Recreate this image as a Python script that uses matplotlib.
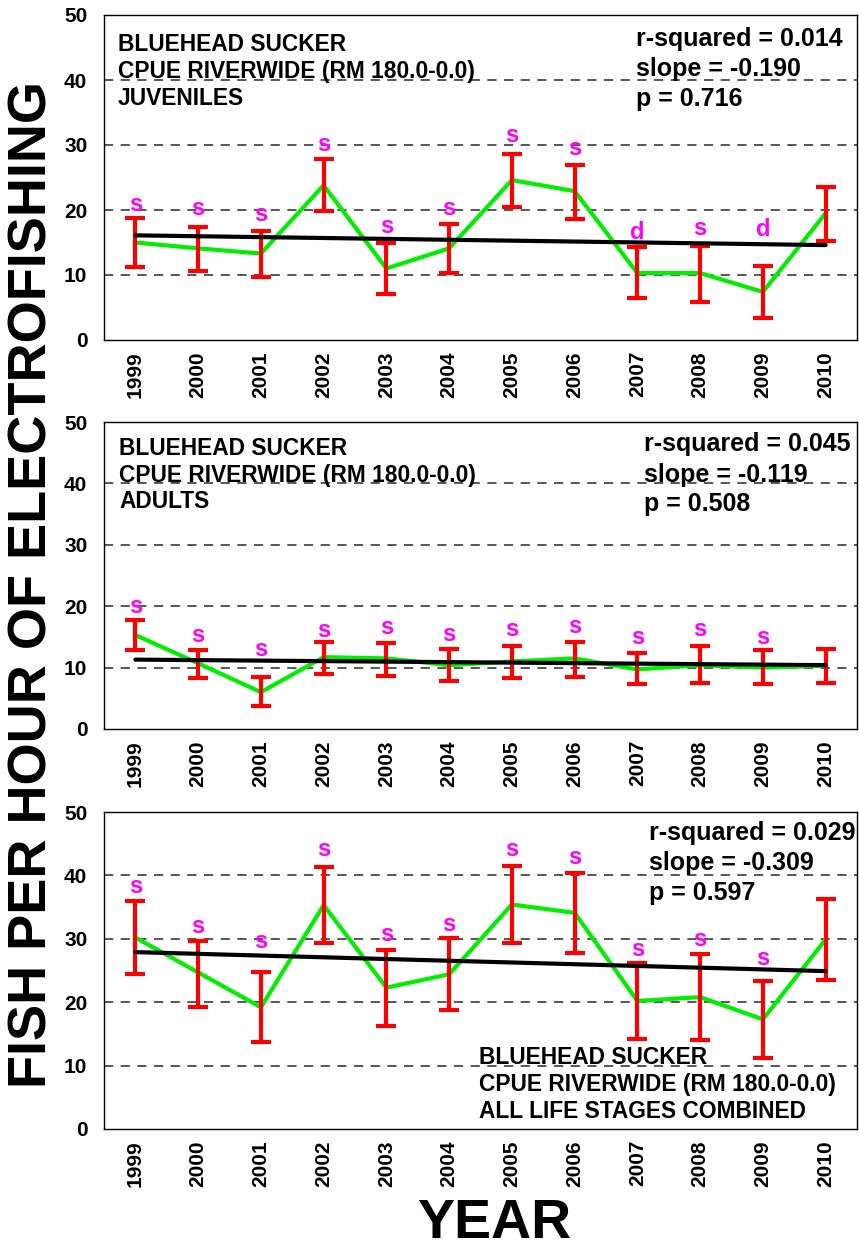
import matplotlib
matplotlib.use("Agg")
import matplotlib.pyplot as plt

plt.rcParams['font.family'] = ['Liberation Sans', 'DejaVu Sans']
plt.rcParams['font.weight'] = 'bold'

W, H = 859, 1251

years = [1999, 2000, 2001, 2002, 2003, 2004, 2005, 2006, 2007, 2008, 2009, 2010]

# Juveniles
juv_mean = [15.0, 14.1, 13.3, 23.8, 11.0, 14.1, 24.6, 22.9, 10.3, 10.3, 7.4, 19.5]
juv_upper = [18.8, 17.4, 16.8, 27.8, 14.9, 17.8, 28.6, 26.9, 14.3, 14.5, 11.4, 23.6]
juv_lower = [11.2, 10.6, 9.7, 19.9, 7.1, 10.3, 20.4, 18.6, 6.5, 5.8, 3.4, 15.3]
juv_letters = ['s', 's', 's', 's', 's', 's', 's', 's', 'd', 's', 'd', '']
juv_letter_y = [19.9, 19.3, 18.3, 29.1, 16.5, 19.2, 30.4, 28.4, 15.6, 16.2, 16.0, 0]
juv_trend = [16.1, 14.6]
juv_stats = ['r-squared = 0.014', 'slope = -0.190', 'p = 0.716']
juv_title = ['BLUEHEAD SUCKER', 'CPUE RIVERWIDE (RM 180.0-0.0)', 'JUVENILES']

# Adults
ad_mean = [15.3, 10.7, 6.0, 11.7, 11.5, 10.4, 11.0, 11.5, 9.7, 10.4, 10.0, 10.3]
ad_upper = [17.7, 12.8, 8.4, 14.1, 14.0, 13.0, 13.5, 14.1, 12.4, 13.5, 12.8, 13.1]
ad_lower = [12.8, 8.3, 3.7, 8.9, 8.7, 7.8, 8.3, 8.5, 7.3, 7.5, 7.4, 7.5]
ad_letters = ['s', 's', 's', 's', 's', 's', 's', 's', 's', 's', 's', '']
ad_letter_y = [18.9, 14.1, 11.9, 15.0, 15.4, 14.4, 15.2, 15.7, 13.9, 15.1, 13.9, 0]
ad_trend = [11.3, 10.4]
ad_stats = ['r-squared = 0.045', 'slope = -0.119', 'p = 0.508']
ad_title = ['BLUEHEAD SUCKER', 'CPUE RIVERWIDE (RM 180.0-0.0)', 'ADULTS']

# All life stages
all_mean = [30.2, 24.7, 19.2, 35.3, 22.3, 24.4, 35.4, 34.1, 20.2, 20.8, 17.3, 29.9]
all_upper = [36.0, 29.7, 24.7, 41.4, 28.2, 30.2, 41.5, 40.3, 26.2, 27.6, 23.3, 36.2]
all_lower = [24.4, 19.3, 13.8, 29.3, 16.3, 18.7, 29.3, 27.7, 14.2, 14.0, 11.2, 23.5]
all_letters = ['s', 's', 's', 's', 's', 's', 's', 's', 's', 's', 's', '']
all_letter_y = [37.3, 30.9, 28.6, 43.1, 29.6, 31.3, 43.1, 41.8, 27.3, 28.9, 25.8, 0]
all_trend = [27.9, 24.9]
all_stats = ['r-squared = 0.029', 'slope = -0.309', 'p = 0.597']
all_title = ['BLUEHEAD SUCKER', 'CPUE RIVERWIDE (RM 180.0-0.0)', 'ALL LIFE STAGES COMBINED']

yticks = [0, 10, 20, 30, 40, 50]

fig = plt.figure(figsize=(W / 100, H / 100), dpi=100)

# axes boxes in pixels: (left, top, right, bottom)
boxes = [(104, 15, 857, 340), (104, 422, 857, 729), (104, 812, 857, 1129)]

panels = [
    (juv_mean, juv_upper, juv_lower, juv_letters, juv_letter_y, juv_trend),
    (ad_mean, ad_upper, ad_lower, ad_letters, ad_letter_y, ad_trend),
    (all_mean, all_upper, all_lower, all_letters, all_letter_y, all_trend),
]

axes = []
for (l, t, r, b), (mean, up, lo, letters, ly, trend) in zip(boxes, panels):
    ax = fig.add_axes([l / W, 1 - b / H, (r - l) / W, (b - t) / H])
    axes.append(ax)
    ax.set_xlim(1998.5, 2010.5)
    ax.set_ylim(0, 50)
    ax.set_yticks(yticks)
    ax.set_xticks(years)
    ax.set_xticklabels([str(y) for y in years], rotation=90, fontsize=15, fontweight='bold')
    ax.set_yticklabels([str(v) for v in yticks], fontsize=15, fontweight='bold')
    ax.tick_params(axis='both', length=0)
    ax.tick_params(axis='y', pad=12)
    ax.tick_params(axis='x', pad=8)
    for v in yticks[1:]:
        ax.axhline(v, color='#3a3a3a', lw=1.2, linestyle=(0, (5.5, 4.5)), zorder=1)
    for s in ax.spines.values():
        s.set_linewidth(1.0)
        s.set_color('black')
    yerr = [[m - lw_ for m, lw_ in zip(mean, lo)], [u - m for m, u in zip(mean, up)]]
    ax.plot(years, mean, color='#00ee00', lw=3.0, zorder=3, solid_joinstyle='miter')
    ax.errorbar(years, mean, yerr=yerr, fmt='none', ecolor='#ff0000', elinewidth=3.0,
                capsize=7.5, capthick=3.0, zorder=4)
    ax.plot([years[0], years[-1]], trend, color='black', lw=3.0, zorder=5, solid_capstyle='round')
    for x, letter, y in zip(years, letters, ly):
        if letter:
            ax.text(x, y, letter, color='#ff00ff', fontsize=17, fontweight='bold',
                    ha='center', va='baseline', zorder=6)


def put_lines(lines, x, baselines, size):
    for txt, y in zip(lines, baselines):
        fig.text(x / W, 1 - y / H, txt, fontsize=size, fontweight='bold',
                 ha='left', va='baseline', color='black', zorder=10)


put_lines(juv_title, 118, [51, 78, 105], 16.4)
put_lines(juv_stats, 636, [46, 76, 106], 18)
put_lines(ad_title, 119, [455, 482, 508], 16.4)
put_lines(ad_stats, 644, [451, 482, 511], 18)
put_lines(all_stats, 649, [840, 870, 900], 18)
put_lines(all_title, 479, [1064, 1091, 1118], 16.4)

fig.text(33 / W, 1 - 585 / H, 'FISH PER HOUR OF ELECTROFISHING', rotation=90,
         fontsize=39, fontweight='bold', ha='center', va='center')
fig.text(494 / W, 1 - 1250 / H, 'YEAR', fontsize=40, fontweight='bold',
         ha='center', va='bottom')

fig.savefig('out.png', dpi=100)
